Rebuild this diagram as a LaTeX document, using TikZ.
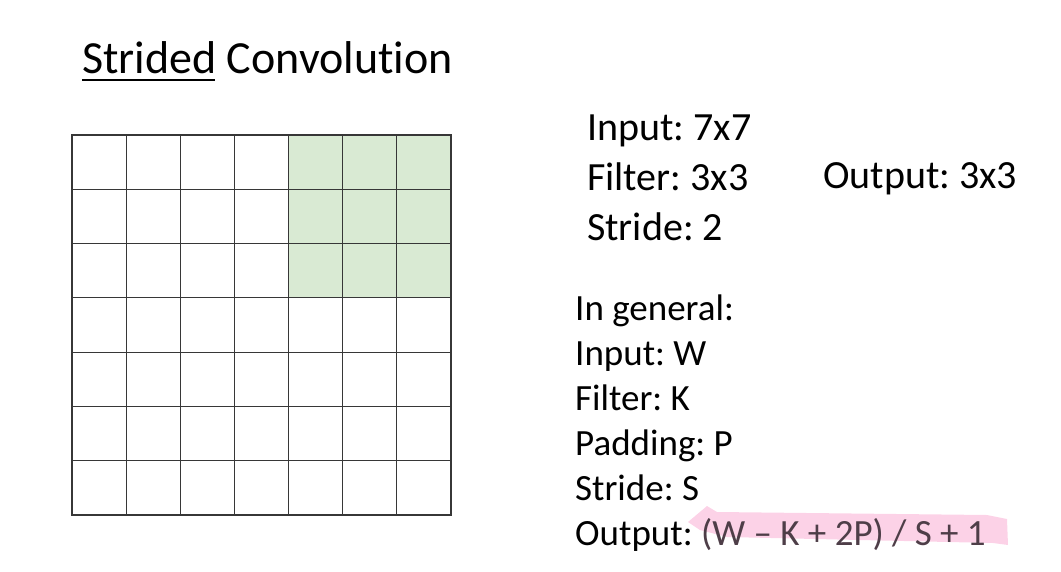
\documentclass[tikz,border=0pt]{standalone}
\usepackage{fontspec}
\setmainfont[Ligatures=NoCommon]{Carlito}
\usepackage{xcolor}
\definecolor{FilterGreen}{RGB}{217,234,211}
\definecolor{GridGray}{RGB}{55,55,55}
\definecolor{MarkerPink}{RGB}{252,210,231}
\definecolor{FormulaGray}{RGB}{78,62,72}
\frenchspacing

\begin{document}
\begin{tikzpicture}[x=1pt, y=-1pt,
    cell/.style={draw=GridGray, line width=1.2pt},
    bigtext/.style={anchor=base west, inner sep=0pt, font=\fontsize{40}{44}\selectfont},
    smalltext/.style={anchor=base west, inner sep=0pt, font=\fontsize{37}{40}\selectfont}]
    \useasboundingbox (0,0) rectangle (1061,571);

    % Title
    \node[anchor=base west, inner sep=0pt, font=\fontsize{46}{50}\selectfont] (title) at (82,73) {Strided Convolution};
    \draw[line width=2.2pt] (82,80) -- (215,80);

    % Filter window
    \fill[FilterGreen] ({72+54.14*4},135) rectangle ++({54.14*3},{54.29*3});

    % Input grid
    \foreach \r in {0,...,6}
        \foreach \c in {0,...,6}
            \draw[cell] ({72+54.14*\c},{135+54.29*\r}) rectangle ++(54.14,54.29);

    % Example values
    \node[bigtext] (inA) at (587,140) {Input: 7x7};
    \node[bigtext] (filtA) at (587,190) {Filter: 3x3};
    \node[bigtext] (strideA) at (587,240) {Stride: 2};
    \node[bigtext] (outA) at (823,188) {Output: 3x3};

    % Marker stroke
    \fill[MarkerPink] (688,522) -- (707,506) -- (717,512) -- (987,515) -- (1007,519) -- (1008,545) -- (993,543) -- (727,537) -- (700,530) -- cycle;

    % General case
    \node[smalltext] (gen) at (575,320) {In general:};
    \node[smalltext] (inB) at (575,365) {Input: W};
    \node[smalltext] (filtB) at (575,410) {Filter: K};
    \node[smalltext] (padB) at (575,455) {Padding: P};
    \node[smalltext] (strideB) at (575,500) {Stride: S};
    \node[smalltext] (outB) at (575,545) {Output: \textcolor{FormulaGray}{(W – K + 2P) / S + 1}};
\end{tikzpicture}
\end{document}
